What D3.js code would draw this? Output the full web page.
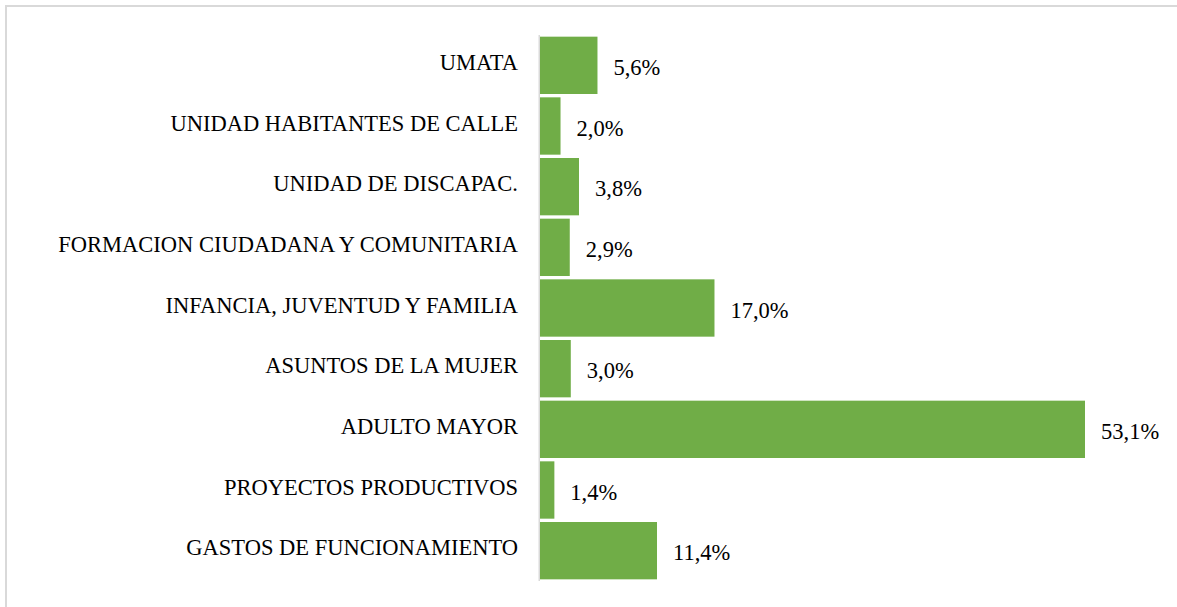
<!DOCTYPE html>
<html>
<head>
<meta charset="utf-8">
<script src="https://cdn.jsdelivr.net/npm/d3@7"></script>
</head>
<body style="margin:0">
<script>
const categories = [
  "UMATA",
  "UNIDAD HABITANTES DE CALLE",
  "UNIDAD DE DISCAPAC.",
  "FORMACION CIUDADANA Y COMUNITARIA",
  "INFANCIA, JUVENTUD Y FAMILIA",
  "ASUNTOS DE LA MUJER",
  "ADULTO MAYOR",
  "PROYECTOS PRODUCTIVOS",
  "GASTOS DE FUNCIONAMIENTO"
];
const values = [5.6, 2.0, 3.8, 2.9, 17.0, 3.0, 53.1, 1.4, 11.4];
const valueLabels = ["5,6%", "2,0%", "3,8%", "2,9%", "17,0%", "3,0%", "53,1%", "1,4%", "11,4%"];

const W = 1177, H = 607;
const svg = d3.select("body").append("svg")
  .attr("width", W).attr("height", H)
  .style("display", "block")
  .attr("font-family", "'Liberation Serif', 'Times New Roman', Times, serif");

// chart border
svg.append("rect")
  .attr("x", 6).attr("y", 6).attr("width", W + 10).attr("height", H + 10)
  .attr("fill", "#fff").attr("stroke", "#d9d9d9").attr("stroke-width", 2);

const x0 = 540;
const x = d3.scaleLinear().domain([0, d3.max(values)]).range([x0, 1085]);
const y = d3.scaleBand().domain(categories).range([35, 581])
  .paddingInner(0.055).paddingOuter(0.0275);

const data = categories.map((c, i) => ({ c, v: values[i], l: valueLabels[i] }));

svg.selectAll("rect.bar").data(data).enter().append("rect")
  .attr("class", "bar")
  .attr("x", x(0))
  .attr("y", d => y(d.c))
  .attr("width", d => x(d.v) - x(0))
  .attr("height", y.bandwidth())
  .attr("fill", "#70ad47");

// axis line
svg.append("line")
  .attr("x1", x0 - 0.75).attr("x2", x0 - 0.75)
  .attr("y1", 35).attr("y2", 581)
  .attr("stroke", "#d9d9d9").attr("stroke-width", 1.5);

// category labels
svg.selectAll("text.cat").data(data).enter().append("text")
  .attr("class", "cat")
  .attr("x", 518)
  .attr("y", d => y(d.c) + y.bandwidth() / 2 + 4.7)
  .attr("text-anchor", "end")
  .attr("font-size", "22.5px")
  .attr("fill", "#000")
  .text(d => d.c);

// value labels
svg.selectAll("text.val").data(data).enter().append("text")
  .attr("class", "val")
  .attr("x", d => x(d.v) + 16)
  .attr("y", d => y(d.c) + y.bandwidth() / 2 + 9.5)
  .attr("font-size", "22.5px")
  .attr("fill", "#000")
  .text(d => d.l);
</script>
</body>
</html>
